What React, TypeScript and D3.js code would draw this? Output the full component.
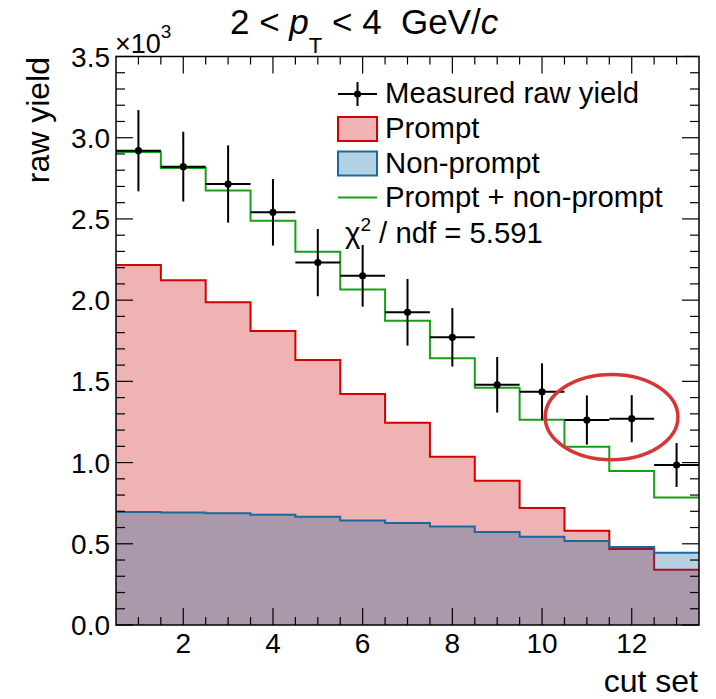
import React from "react";
import * as d3 from "d3";

// Per-cut-set raw yields (13 cut sets)
const cutSets = [1, 2, 3, 4, 5, 6, 7, 8, 9, 10, 11, 12, 13];
const measuredYield = [2920, 2822, 2715, 2541, 2231, 2150, 1925, 1771, 1479, 1436, 1262, 1270, 985];
const measuredError = [250, 215, 238, 205, 207, 190, 205, 180, 171, 175, 151, 145, 135];
const promptYield = [2216, 2122, 1987, 1810, 1631, 1422, 1245, 1036, 888, 720, 581, 468, 340];
const nonPromptYield = [696, 692, 688, 679, 667, 644, 628, 607, 573, 544, 517, 480, 445];
const yTickValues = [0, 500, 1000, 1500, 2000, 2500, 3000, 3500];
const xTickValues = [2, 4, 6, 8, 10, 12];
const chi2OverNdf = 5.591;
// Highlighted cut sets (11 and 12)
const highlight = { cx: 11.55, cy: 1280, rx: 1.48, ry: 262 };

const W = 716;
const H = 699;
const FONT = "'Liberation Sans', Arial, Helvetica, sans-serif";

const C_PROMPT_LINE = "#d40000";
const C_PROMPT_FILL = "#efb3b3";
const C_NP_LINE = "#1a6a9e";
const C_NP_FILL = "rgba(0,82,150,0.28)";
const C_SUM = "#17a017";

export default function App() {
  const x = d3.scaleLinear().domain([0.5, 13.5]).range([116, 699]);
  const y = d3.scaleLinear().domain([0, 3500]).range([625, 56.5]);
  const [x0, x1] = x.range();
  const [yb, yt] = y.range();

  const sumYield = promptYield.map((v, i) => v + nonPromptYield[i]);

  // step points: left edge of each bin, plus the final right edge
  const stepPts = (vals: number[]) => {
    const pts: [number, number][] = vals.map((v, i) => [cutSets[i] - 0.5, v]);
    pts.push([cutSets[cutSets.length - 1] + 0.5, vals[vals.length - 1]]);
    return pts;
  };
  const stepLine = d3
    .line<[number, number]>()
    .x((d) => x(d[0]))
    .y((d) => y(d[1]))
    .curve(d3.curveStepAfter);
  const stepArea = d3
    .area<[number, number]>()
    .x((d) => x(d[0]))
    .y0(y(0))
    .y1((d) => y(d[1]))
    .curve(d3.curveStepAfter);

  const yMinor = d3.range(0, 3501, 100);
  const xMinor = d3.range(1, 13.5, 0.5);

  const tickFs = 28;
  const titleFs = 32;
  const legFs = 29.3;

  const legX0 = 338;
  const legX1 = 377;
  const legTextX = 385;
  const rows = [94, 129, 163.5, 197.5];

  return (
    <svg width={W} height={H} style={{ display: "block", position: "absolute", left: 0, top: 0 }} fontFamily={FONT}>
      <rect x={0} y={0} width={W} height={H} fill="#fff" />

      {/* prompt component */}
      <path d={stepArea(stepPts(promptYield)) ?? ""} fill={C_PROMPT_FILL} />
      <path d={stepLine(stepPts(promptYield)) ?? ""} fill="none" stroke={C_PROMPT_LINE} strokeWidth={2} />
      {/* non-prompt component */}
      <path d={stepArea(stepPts(nonPromptYield)) ?? ""} fill={C_NP_FILL} />
      <path d={stepLine(stepPts(nonPromptYield)) ?? ""} fill="none" stroke={C_NP_LINE} strokeWidth={2} />
      {/* sum */}
      <path d={stepLine(stepPts(sumYield)) ?? ""} fill="none" stroke={C_SUM} strokeWidth={2} />

      {/* measured points */}
      {cutSets.map((c, i) => (
        <g key={c} stroke="#000" strokeWidth={2}>
          <line x1={x(c - 0.5)} x2={x(c + 0.5)} y1={y(measuredYield[i])} y2={y(measuredYield[i])} />
          <line
            x1={x(c)}
            x2={x(c)}
            y1={y(measuredYield[i] - measuredError[i])}
            y2={y(measuredYield[i] + measuredError[i])}
          />
          <circle cx={x(c)} cy={y(measuredYield[i])} r={3.6} fill="#000" stroke="none" />
        </g>
      ))}

      {/* highlight ellipse */}
      <ellipse
        cx={x(highlight.cx)}
        cy={y(highlight.cy)}
        rx={x(highlight.cx + highlight.rx) - x(highlight.cx)}
        ry={y(highlight.cy - highlight.ry) - y(highlight.cy)}
        fill="none"
        stroke="#d83535"
        strokeWidth={3.5}
      />

      {/* frame */}
      <rect x={x0} y={yt} width={x1 - x0} height={yb - yt} fill="none" stroke="#000" strokeWidth={1.5} />

      {/* y ticks (left + right) */}
      {yMinor.map((v) => {
        const major = v % 500 === 0;
        const len = major ? 17 : 9;
        return (
          <g key={"y" + v} stroke="#000" strokeWidth={1.2}>
            <line x1={x0} x2={x0 + len} y1={y(v)} y2={y(v)} />
            <line x1={x1} x2={x1 - len} y1={y(v)} y2={y(v)} />
          </g>
        );
      })}
      {/* x ticks (bottom + top) */}
      {xMinor.map((v) => {
        const major = v % 2 === 0;
        const len = major ? 17 : 8;
        return (
          <g key={"x" + v} stroke="#000" strokeWidth={1.2}>
            <line x1={x(v)} x2={x(v)} y1={yb} y2={yb - len} />
            <line x1={x(v)} x2={x(v)} y1={yt} y2={yt + len} />
          </g>
        );
      })}

      {/* y tick labels */}
      {yTickValues.map((v) => (
        <text key={"yl" + v} x={110} y={y(v) + 10} fontSize={tickFs} textAnchor="end">
          {(v / 1000).toFixed(1)}
        </text>
      ))}
      {/* x tick labels */}
      {xTickValues.map((v) => (
        <text key={"xl" + v} x={x(v)} y={653} fontSize={tickFs} textAnchor="middle">
          {v}
        </text>
      ))}

      {/* exponent */}
      <text x={115} y={53} fontSize={27}>
        ×10
        <tspan fontSize={19} dy={-15}>
          3
        </tspan>
      </text>

      {/* axis titles */}
      <text x={698} y={692} fontSize={titleFs} textAnchor="end">
        cut set
      </text>
      <text transform={`translate(49,57) rotate(-90)`} fontSize={titleFs} textAnchor="end">
        raw yield
      </text>

      {/* plot title */}
      <text x={230} y={34} fontSize={35} style={{ whiteSpace: "pre" }}>
        {"2 < "}
        <tspan fontStyle="italic">p</tspan>
        <tspan fontSize={22} dy={19}>
          T
        </tspan>
        <tspan dy={-19}>{" < 4  GeV/"}</tspan>
        <tspan fontStyle="italic">c</tspan>
      </text>

      {/* legend */}
      <g>
        <line x1={legX0} x2={legX1} y1={rows[0]} y2={rows[0]} stroke="#000" strokeWidth={2} />
        <line x1={(legX0 + legX1) / 2} x2={(legX0 + legX1) / 2} y1={rows[0] - 12} y2={rows[0] + 12} stroke="#000" strokeWidth={2} />
        <circle cx={(legX0 + legX1) / 2} cy={rows[0]} r={3.6} fill="#000" />
        <text x={legTextX} y={rows[0] + 9} fontSize={legFs}>
          Measured raw yield
        </text>

        <rect x={legX0} y={rows[1] - 12} width={legX1 - legX0} height={24} fill={C_PROMPT_FILL} stroke={C_PROMPT_LINE} strokeWidth={2} />
        <text x={legTextX} y={rows[1] + 9} fontSize={legFs}>
          Prompt
        </text>

        <rect x={legX0} y={rows[2] - 12} width={legX1 - legX0} height={24} fill="#b3d2e3" stroke={C_NP_LINE} strokeWidth={2} />
        <text x={legTextX} y={rows[2] + 9} fontSize={legFs}>
          Non-prompt
        </text>

        <line x1={legX0} x2={legX1} y1={rows[3]} y2={rows[3]} stroke={C_SUM} strokeWidth={2} />
        <text x={legTextX} y={rows[3] + 9} fontSize={legFs}>
          Prompt + non-prompt
        </text>

        <text x={345} y={243} fontSize={legFs}>
          χ
          <tspan fontSize={19} dy={-12}>
            2
          </tspan>
          <tspan dy={12}>{` / ndf = ${chi2OverNdf.toFixed(3)}`}</tspan>
        </text>
      </g>
    </svg>
  );
}
